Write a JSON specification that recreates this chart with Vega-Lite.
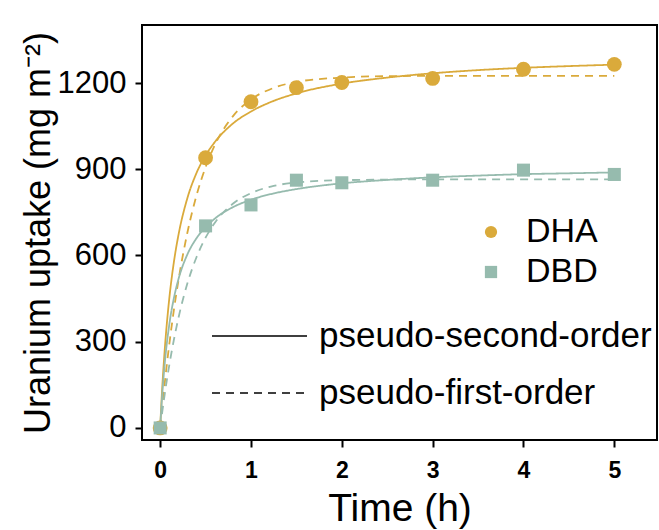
{
  "$schema": "https://vega.github.io/schema/vega-lite/v6.json",
  "autosize": {"type": "none"},
  "width": 515,
  "height": 415,
  "padding": {"left": 142, "top": 25, "right": 2, "bottom": 90},
  "background": "white",
  "config": {
    "font": "Liberation Sans",
    "view": {"stroke": "black", "strokeWidth": 2},
    "axis": {
      "grid": false,
      "domain": false,
      "tickColor": "black",
      "tickWidth": 2,
      "tickSize": 7,
      "labelColor": "black",
      "titleColor": "black",
      "labelFont": "Liberation Sans",
      "titleFont": "Liberation Sans",
      "titleFontWeight": "normal"
    },
    "legend": {"orient": "none", "padding": 0, "labelFont": "Liberation Sans", "labelColor": "black", "labelLimit": 500}
  },
  "datasets": {
    "measured": [
      {"t": 0, "q": 0, "sample": "DHA"},
      {"t": 0.5, "q": 940, "sample": "DHA"},
      {"t": 1, "q": 1135, "sample": "DHA"},
      {"t": 1.5, "q": 1184, "sample": "DHA"},
      {"t": 2, "q": 1202, "sample": "DHA"},
      {"t": 3, "q": 1216, "sample": "DHA"},
      {"t": 4, "q": 1248, "sample": "DHA"},
      {"t": 5, "q": 1265, "sample": "DHA"},
      {"t": 0, "q": 0, "sample": "DBD"},
      {"t": 0.5, "q": 703, "sample": "DBD"},
      {"t": 1, "q": 776, "sample": "DBD"},
      {"t": 1.5, "q": 862, "sample": "DBD"},
      {"t": 2, "q": 853, "sample": "DBD"},
      {"t": 3, "q": 862, "sample": "DBD"},
      {"t": 4, "q": 897, "sample": "DBD"},
      {"t": 5, "q": 882, "sample": "DBD"}
    ],
    "fits": [
      {"t": 0, "q": 0, "material": "DHA", "model": "pseudo-second-order"},
      {"t": 0.02, "q": 124, "material": "DHA", "model": "pseudo-second-order"},
      {"t": 0.05, "q": 271, "material": "DHA", "model": "pseudo-second-order"},
      {"t": 0.1, "q": 449, "material": "DHA", "model": "pseudo-second-order"},
      {"t": 0.15, "q": 575, "material": "DHA", "model": "pseudo-second-order"},
      {"t": 0.2, "q": 669, "material": "DHA", "model": "pseudo-second-order"},
      {"t": 0.3, "q": 800, "material": "DHA", "model": "pseudo-second-order"},
      {"t": 0.4, "q": 887, "material": "DHA", "model": "pseudo-second-order"},
      {"t": 0.5, "q": 948, "material": "DHA", "model": "pseudo-second-order"},
      {"t": 0.6, "q": 994, "material": "DHA", "model": "pseudo-second-order"},
      {"t": 0.8, "q": 1059, "material": "DHA", "model": "pseudo-second-order"},
      {"t": 1, "q": 1101, "material": "DHA", "model": "pseudo-second-order"},
      {"t": 1.25, "q": 1138, "material": "DHA", "model": "pseudo-second-order"},
      {"t": 1.5, "q": 1164, "material": "DHA", "model": "pseudo-second-order"},
      {"t": 2, "q": 1198, "material": "DHA", "model": "pseudo-second-order"},
      {"t": 2.5, "q": 1219, "material": "DHA", "model": "pseudo-second-order"},
      {"t": 3, "q": 1234, "material": "DHA", "model": "pseudo-second-order"},
      {"t": 3.5, "q": 1245, "material": "DHA", "model": "pseudo-second-order"},
      {"t": 4, "q": 1253, "material": "DHA", "model": "pseudo-second-order"},
      {"t": 4.5, "q": 1259, "material": "DHA", "model": "pseudo-second-order"},
      {"t": 5, "q": 1264, "material": "DHA", "model": "pseudo-second-order"},
      {"t": 0, "q": 0, "material": "DHA", "model": "pseudo-first-order"},
      {"t": 0.02, "q": 64, "material": "DHA", "model": "pseudo-first-order"},
      {"t": 0.05, "q": 155, "material": "DHA", "model": "pseudo-first-order"},
      {"t": 0.1, "q": 290, "material": "DHA", "model": "pseudo-first-order"},
      {"t": 0.15, "q": 408, "material": "DHA", "model": "pseudo-first-order"},
      {"t": 0.2, "q": 511, "material": "DHA", "model": "pseudo-first-order"},
      {"t": 0.3, "q": 680, "material": "DHA", "model": "pseudo-first-order"},
      {"t": 0.4, "q": 809, "material": "DHA", "model": "pseudo-first-order"},
      {"t": 0.5, "q": 907, "material": "DHA", "model": "pseudo-first-order"},
      {"t": 0.6, "q": 983, "material": "DHA", "model": "pseudo-first-order"},
      {"t": 0.8, "q": 1084, "material": "DHA", "model": "pseudo-first-order"},
      {"t": 1, "q": 1143, "material": "DHA", "model": "pseudo-first-order"},
      {"t": 1.25, "q": 1183, "material": "DHA", "model": "pseudo-first-order"},
      {"t": 1.5, "q": 1204, "material": "DHA", "model": "pseudo-first-order"},
      {"t": 2, "q": 1219, "material": "DHA", "model": "pseudo-first-order"},
      {"t": 2.5, "q": 1224, "material": "DHA", "model": "pseudo-first-order"},
      {"t": 3, "q": 1225, "material": "DHA", "model": "pseudo-first-order"},
      {"t": 4, "q": 1225, "material": "DHA", "model": "pseudo-first-order"},
      {"t": 5, "q": 1225, "material": "DHA", "model": "pseudo-first-order"},
      {"t": 0, "q": 0, "material": "DBD", "model": "pseudo-second-order"},
      {"t": 0.02, "q": 104, "material": "DBD", "model": "pseudo-second-order"},
      {"t": 0.05, "q": 223, "material": "DBD", "model": "pseudo-second-order"},
      {"t": 0.1, "q": 359, "material": "DBD", "model": "pseudo-second-order"},
      {"t": 0.15, "q": 450, "material": "DBD", "model": "pseudo-second-order"},
      {"t": 0.2, "q": 516, "material": "DBD", "model": "pseudo-second-order"},
      {"t": 0.3, "q": 604, "material": "DBD", "model": "pseudo-second-order"},
      {"t": 0.4, "q": 660, "material": "DBD", "model": "pseudo-second-order"},
      {"t": 0.5, "q": 699, "material": "DBD", "model": "pseudo-second-order"},
      {"t": 0.6, "q": 728, "material": "DBD", "model": "pseudo-second-order"},
      {"t": 0.8, "q": 768, "material": "DBD", "model": "pseudo-second-order"},
      {"t": 1, "q": 794, "material": "DBD", "model": "pseudo-second-order"},
      {"t": 1.25, "q": 816, "material": "DBD", "model": "pseudo-second-order"},
      {"t": 1.5, "q": 831, "material": "DBD", "model": "pseudo-second-order"},
      {"t": 2, "q": 851, "material": "DBD", "model": "pseudo-second-order"},
      {"t": 2.5, "q": 863, "material": "DBD", "model": "pseudo-second-order"},
      {"t": 3, "q": 872, "material": "DBD", "model": "pseudo-second-order"},
      {"t": 3.5, "q": 878, "material": "DBD", "model": "pseudo-second-order"},
      {"t": 4, "q": 883, "material": "DBD", "model": "pseudo-second-order"},
      {"t": 4.5, "q": 886, "material": "DBD", "model": "pseudo-second-order"},
      {"t": 5, "q": 889, "material": "DBD", "model": "pseudo-second-order"},
      {"t": 0, "q": 0, "material": "DBD", "model": "pseudo-first-order"},
      {"t": 0.02, "q": 49, "material": "DBD", "model": "pseudo-first-order"},
      {"t": 0.05, "q": 117, "material": "DBD", "model": "pseudo-first-order"},
      {"t": 0.1, "q": 218, "material": "DBD", "model": "pseudo-first-order"},
      {"t": 0.15, "q": 305, "material": "DBD", "model": "pseudo-first-order"},
      {"t": 0.2, "q": 381, "material": "DBD", "model": "pseudo-first-order"},
      {"t": 0.3, "q": 503, "material": "DBD", "model": "pseudo-first-order"},
      {"t": 0.4, "q": 594, "material": "DBD", "model": "pseudo-first-order"},
      {"t": 0.5, "q": 662, "material": "DBD", "model": "pseudo-first-order"},
      {"t": 0.6, "q": 713, "material": "DBD", "model": "pseudo-first-order"},
      {"t": 0.8, "q": 780, "material": "DBD", "model": "pseudo-first-order"},
      {"t": 1, "q": 817, "material": "DBD", "model": "pseudo-first-order"},
      {"t": 1.25, "q": 842, "material": "DBD", "model": "pseudo-first-order"},
      {"t": 1.5, "q": 854, "material": "DBD", "model": "pseudo-first-order"},
      {"t": 2, "q": 862, "material": "DBD", "model": "pseudo-first-order"},
      {"t": 2.5, "q": 864, "material": "DBD", "model": "pseudo-first-order"},
      {"t": 3, "q": 865, "material": "DBD", "model": "pseudo-first-order"},
      {"t": 4, "q": 865, "material": "DBD", "model": "pseudo-first-order"},
      {"t": 5, "q": 865, "material": "DBD", "model": "pseudo-first-order"}
    ]
  },
  "encoding": {
    "x": {
      "field": "t",
      "type": "quantitative",
      "scale": {"domain": [-0.2, 5.47], "nice": false, "zero": false},
      "axis": {
        "title": "Time (h)",
        "values": [0, 1, 2, 3, 4, 5],
        "format": "d",
        "labelFontSize": 23,
        "labelFontWeight": "bold",
        "labelPadding": 12,
        "titleFontSize": 39,
        "titlePadding": 7
      }
    },
    "y": {
      "field": "q",
      "type": "quantitative",
      "scale": {"domain": [-42, 1402], "nice": false, "zero": false},
      "axis": {
        "title": "Uranium uptake (mg m⁻²)",
        "values": [0, 300, 600, 900, 1200],
        "format": "d",
        "labelFontSize": 31,
        "labelPadding": 9,
        "titleFontSize": 36,
        "titlePadding": 0
      }
    }
  },
  "layer": [
    {
      "data": {"name": "fits"},
      "mark": {"type": "line", "strokeWidth": 1.8, "interpolate": "monotone"},
      "encoding": {
        "detail": {"field": "material"},
        "stroke": {
          "field": "material",
          "scale": {"domain": ["DBD", "DHA"], "range": ["#96BBAE", "#DAAA3B"]},
          "legend": null
        },
        "strokeDash": {
          "field": "model",
          "scale": {
            "domain": ["pseudo-second-order", "pseudo-first-order"],
            "range": [[1, 0], [8, 6]]
          },
          "legend": {
            "orient": "none",
            "legendX": 78.5,
            "legendY": 272,
            "title": null,
            "symbolType": "M-1.25,0H1.25",
            "symbolSize": 5776,
            "symbolStrokeColor": "black",
            "symbolStrokeWidth": 1.5,
            "symbolFillColor": "transparent",
            "labelFontSize": 35,
            "labelOffset": 20.5,
            "rowPadding": 0
          }
        }
      }
    },
    {
      "data": {"name": "measured"},
      "transform": [{"filter": "datum.sample === 'DHA'"}],
      "mark": {"type": "point", "filled": true, "opacity": 1, "size": 220},
      "encoding": {
        "color": {
          "field": "sample",
          "scale": {"domain": ["DHA", "DBD"], "range": ["#DAAA3B", "#96BBAE"]},
          "legend": {
            "orient": "none",
            "legendX": 332,
            "legendY": 190,
            "title": null,
            "symbolSize": 150,
            "labelFontSize": 34,
            "labelOffset": 18,
            "rowPadding": 6
          }
        },
        "shape": {
          "field": "sample",
          "scale": {"domain": ["DHA", "DBD"], "range": ["circle", "square"]},
          "legend": {
            "orient": "none",
            "legendX": 332,
            "legendY": 190,
            "title": null,
            "symbolSize": 150,
            "labelFontSize": 34,
            "labelOffset": 18,
            "rowPadding": 6
          }
        }
      }
    },
    {
      "data": {"name": "measured"},
      "transform": [{"filter": "datum.sample === 'DBD'"}],
      "mark": {"type": "point", "filled": true, "opacity": 1, "size": 170},
      "encoding": {
        "color": {
          "field": "sample",
          "scale": {"domain": ["DHA", "DBD"], "range": ["#DAAA3B", "#96BBAE"]},
          "legend": {
            "orient": "none",
            "legendX": 332,
            "legendY": 190,
            "title": null,
            "symbolSize": 150,
            "labelFontSize": 34,
            "labelOffset": 18,
            "rowPadding": 6
          }
        },
        "shape": {
          "field": "sample",
          "scale": {"domain": ["DHA", "DBD"], "range": ["circle", "square"]},
          "legend": {
            "orient": "none",
            "legendX": 332,
            "legendY": 190,
            "title": null,
            "symbolSize": 150,
            "labelFontSize": 34,
            "labelOffset": 18,
            "rowPadding": 6
          }
        }
      }
    }
  ]
}
